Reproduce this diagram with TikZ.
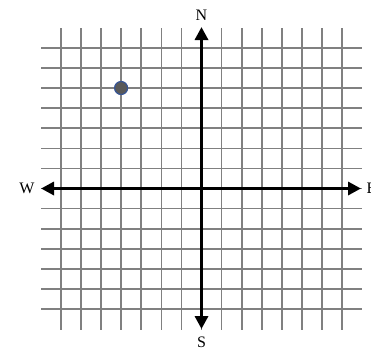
\documentclass[tikz,border=0pt]{standalone}
\usepackage{fontspec}
\setmainfont{Liberation Serif}
\usetikzlibrary{arrows.meta}
\begin{document}
\begin{tikzpicture}[x=1pt,y=-1pt,
  gridline/.style={draw=black!50, line width=1.6pt},
  axisline/.style={draw=black, line width=3.2pt, -{Triangle[length=13pt,width=13pt]}},
  lbl/.style={font=\fontsize{16}{18}\selectfont, inner sep=0pt},
  dot/.style={circle, fill=black!65, draw={rgb,255:red,55;green,85;blue,150}, line width=1.2pt, minimum size=13pt, inner sep=0pt}]
\useasboundingbox (0,0) rectangle (371,349);
% vertical grid lines
\foreach \i in {-7,...,7} {
  \draw[gridline] ({201.5+20.1*\i},28) -- ({201.5+20.1*\i},330);
}
% horizontal grid lines
\foreach \j in {-7,...,6} {
  \draw[gridline] (41,{188.5+20.1*\j}) -- (362,{188.5+20.1*\j});
}
% axes
\coordinate (o) at (201.5,188.5);
\coordinate (ntip) at (201.5,27);
\coordinate (stip) at (201.5,329);
\coordinate (wtip) at (41,188.5);
\coordinate (etip) at (361,188.5);
\draw[axisline] (o) -- (ntip);
\draw[axisline] (o) -- (stip);
\draw[axisline] (o) -- (wtip);
\draw[axisline] (o) -- (etip);
% labels
\node[lbl] (N) at (201.5,15) {N};
\node[lbl] (S) at (201.5,342) {S};
\node[lbl] (W) at (27,188) {W};
\node[lbl, anchor=west] (E) at (366.5,188) {E};
% point
\node[dot] (p) at (121.1,88) {};
\end{tikzpicture}
\end{document}
